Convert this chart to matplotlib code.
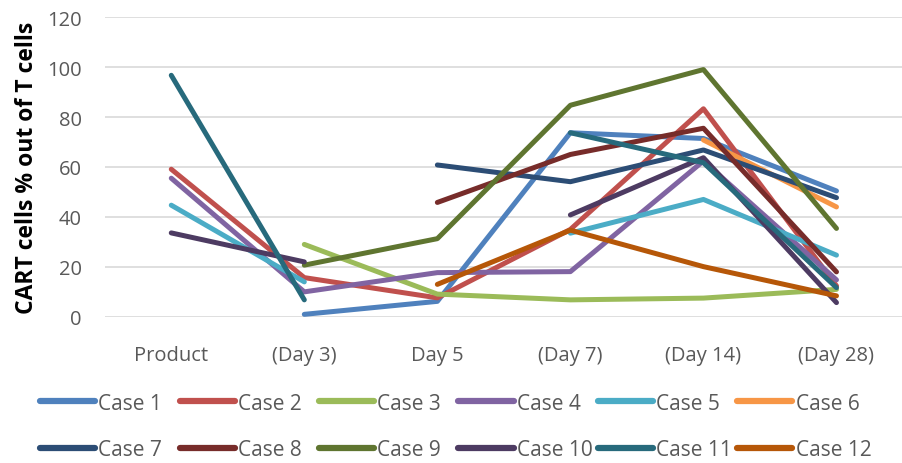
import numpy as np
import matplotlib
matplotlib.use("Agg")
import matplotlib.pyplot as plt

nan = np.nan
categories = ["Product", "(Day 3)", "Day 5", "(Day 7)", "(Day 14)", "(Day 28)"]
case_names = ["Case 1", "Case 2", "Case 3", "Case 4", "Case 5", "Case 6",
              "Case 7", "Case 8", "Case 9", "Case 10", "Case 11", "Case 12"]

case1 = [nan, 1.0, 6.2, 73.7, 71.4, 50.4]
case2 = [59.1, 15.7, 7.6, 35.0, 83.3, 12.4]
case3 = [nan, 29.0, 9.1, 6.8, 7.5, 11.0]
case4 = [55.5, 10.0, 17.7, 18.1, 62.4, 14.8]
case5 = [44.7, 14.0, nan, 33.5, 47.0, 24.7]
case6 = [nan, nan, nan, nan, 70.8, 44.0]
case7 = [nan, nan, 60.8, 54.1, 66.8, 47.7]
case8 = [nan, nan, 45.8, 65.0, 75.5, 18.0]
case9 = [nan, 20.7, 31.3, 84.7, 99.0, 35.4]
case10 = [33.6, 22.0, nan, 40.8, 63.7, 5.7]
case11 = [96.7, 6.8, nan, 73.7, 61.7, 11.7]
case12 = [nan, nan, 13.0, 34.7, 20.1, 8.4]

series = [case1, case2, case3, case4, case5, case6,
          case7, case8, case9, case10, case11, case12]
colors = ["#4F81BD", "#C0504D", "#9BBB59", "#8064A2", "#4BACC6", "#F79646",
          "#2C4D75", "#772C2A", "#5F7530", "#4D3B62", "#276A7C", "#B65708"]

plt.rcParams['font.family'] = ['Open Sans', 'DejaVu Sans']

W, H = 903, 464
fig = plt.figure(figsize=(W / 100, H / 100), dpi=100)
ax = fig.add_axes([0.116, 0.315, 0.884, 0.646])

x = np.arange(len(categories))
lines = []
for vals, col, name in zip(series, colors, case_names):
    ln, = ax.plot(x, vals, color=col, lw=3.6, label=name,
                  solid_capstyle='round', solid_joinstyle='round')
    lines.append(ln)

ax.set_xlim(-0.5, len(categories) - 0.5)
ax.set_ylim(0, 120)
ax.set_yticks(np.arange(0, 121, 20))
ax.set_xticks(x)
ax.set_xticklabels(categories)
ax.grid(axis='y', color='#D9D9D9', lw=1.2)
ax.set_axisbelow(True)
for s in ax.spines.values():
    s.set_visible(False)
ax.tick_params(axis='both', length=0, colors='#595959', labelsize=14.5)
ax.tick_params(axis='x', pad=20)
ax.tick_params(axis='y', pad=16.5)
ax.set_ylabel("CART cells % out of T cells", fontsize=16.5, fontweight='bold',
              color='black', labelpad=6)

# legend: 6 equally spaced columns, 2 rows (row-major order)
ncols = 6
col_left = 40 / W
col_step = 139.5 / W
for c in range(ncols):
    leg = fig.legend([lines[c], lines[c + ncols]],
                     [case_names[c], case_names[c + ncols]],
                     loc='center left',
                     bbox_to_anchor=(col_left + c * col_step, 0.0786),
                     frameon=False, fontsize=15, handlelength=2.64,
                     handletextpad=0.15, labelspacing=1.24,
                     borderpad=0, borderaxespad=0,
                     labelcolor='#595959')
    for h in leg.legend_handles:
        h.set_linewidth(4.5)
        h.set_solid_capstyle('round')

fig.savefig("out.png", dpi=100)
